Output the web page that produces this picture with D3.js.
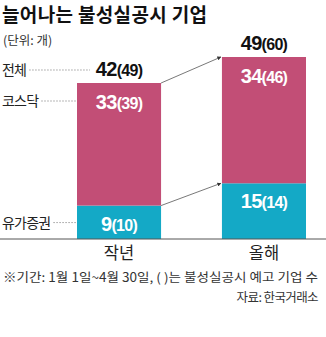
<!DOCTYPE html>
<html><head><meta charset="utf-8">
<script src="https://cdn.jsdelivr.net/npm/d3@7"></script>
<style>
html,body{margin:0;padding:0;background:#fff;}
svg{display:block;}
</style></head>
<body>
<script>
const categories = ["작년", "올해"];
const kosdaq = [33, 34];
const kosdaqNotice = [39, 46];
const yuga = [9, 15];
const yugaNotice = [10, 14];
const total = [42, 49];
const totalNotice = [49, 60];
const seriesLabels = ["전체", "코스닥", "유가증권"];

const W = 326, H = 337;
const PINK = "#c24e76", BLUE = "#14a9c6";
const KR = "'Noto Sans CJK KR', sans-serif";
const NUM = "'Liberation Sans', Arial, sans-serif";

const svg = d3.select("body").append("svg").attr("width", W).attr("height", H);

const x = d3.scaleBand().domain(categories).range([77, 306]).paddingInner(0.42).paddingOuter(0);
const y = d3.scaleLinear().domain([0, d3.max(total)]).range([239, 57]);

// title
svg.append("text").attr("x", 2).attr("y", 22).attr("font-family", KR).attr("font-weight", 700)
  .attr("font-size", 19).attr("fill", "#111").attr("textLength", 205).attr("lengthAdjust", "spacing")
  .text("늘어나는 불성실공시 기업");
svg.append("text").attr("x", 3).attr("y", 45).attr("font-family", KR)
  .attr("font-size", 12.5).attr("fill", "#333").text("(단위: 개)");

const data = categories.map((c, i) => ({c, k: kosdaq[i], kn: kosdaqNotice[i], y: yuga[i], yn: yugaNotice[i], t: total[i], tn: totalNotice[i]}));

// bars
svg.selectAll("rect.yuga").data(data).join("rect")
  .attr("x", d => x(d.c)).attr("width", x.bandwidth())
  .attr("y", d => y(d.y)).attr("height", d => y(0) - y(d.y)).attr("fill", BLUE);
svg.selectAll("rect.kosdaq").data(data).join("rect")
  .attr("x", d => x(d.c)).attr("width", x.bandwidth())
  .attr("y", d => y(d.y + d.k)).attr("height", d => y(d.y) - y(d.y + d.k)).attr("fill", PINK);

// axis baseline
svg.append("line").attr("x1", 0).attr("x2", W).attr("y1", y(0)).attr("y2", y(0))
  .attr("stroke", "#555").attr("stroke-width", 1);

// value labels
function numLabel(xc, yb, main, sub, color) {
  const t = svg.append("text").attr("x", xc).attr("y", yb).attr("text-anchor", "middle")
    .attr("font-family", NUM).attr("font-weight", 700).attr("fill", color).attr("letter-spacing", -0.7);
  t.append("tspan").attr("font-size", 20).text(main);
  t.append("tspan").attr("font-size", 16).text("(" + sub + ")");
}
data.forEach(d => {
  const xc = x(d.c) + x.bandwidth() / 2;
  numLabel(xc, y(d.t) - 7, d.t, d.tn, "#111");
  numLabel(xc, y(d.y + d.k) + 26, d.k, d.kn, "#fff");
  numLabel(xc, y(d.y) + 25, d.y, d.yn, "#fff");
});

// x labels
svg.selectAll("text.xl").data(categories).join("text")
  .attr("x", d => x(d) + x.bandwidth() / 2).attr("y", 259).attr("text-anchor", "middle")
  .attr("font-family", KR).attr("font-size", 16.5).attr("fill", "#222").text(d => d);

// arrows
const defs = svg.append("defs");
defs.append("marker").attr("id", "ah").attr("viewBox", "0 0 10 10").attr("refX", 9).attr("refY", 5)
  .attr("markerWidth", 5).attr("markerHeight", 5).attr("orient", "auto")
  .append("path").attr("d", "M0,0L10,5L0,10z").attr("fill", "#333");
const x0 = x(categories[0]) + x.bandwidth(), x1 = x(categories[1]);
[[total[0], total[1]], [yuga[0], yuga[1]]].forEach(([a, b]) => {
  svg.append("line").attr("x1", x0).attr("y1", y(a)).attr("x2", x1 - 1).attr("y2", y(b))
    .attr("stroke", "#555").attr("stroke-width", 0.8).attr("marker-end", "url(#ah)");
});

// series labels with dotted leaders
const lx = 2;
const leaders = [
  {label: seriesLabels[0], yv: y(total[0]) - 13, end: x(categories[0]) + 13},
  {label: seriesLabels[1], yv: y(total[0]) + 18, end: x(categories[0]) - 1},
  {label: seriesLabels[2], yv: y(yuga[0]) + 17, end: x(categories[0]) - 1}
];
leaders.forEach(l => {
  const t = svg.append("text").attr("x", lx).attr("y", l.yv + 5).attr("font-family", KR)
    .attr("font-size", 14).attr("fill", "#222").attr("letter-spacing", -0.8).text(l.label);
  const w = t.node().getComputedTextLength();
  svg.append("line").attr("x1", lx + w + 3).attr("x2", l.end).attr("y1", l.yv).attr("y2", l.yv)
    .attr("stroke", "#888").attr("stroke-width", 0.8).attr("stroke-dasharray", "1.5,1.5");
});

// footnotes
svg.append("text").attr("x", 3).attr("y", 282).attr("font-family", KR).attr("font-size", 12.5)
  .attr("fill", "#333").attr("textLength", 315).attr("lengthAdjust", "spacingAndGlyphs")
  .text("※기간: 1월 1일~4월 30일, ( )는 불성실공시 예고 기업 수");
svg.append("text").attr("x", 318).attr("y", 302).attr("text-anchor", "end").attr("font-family", KR)
  .attr("font-size", 12.5).attr("fill", "#333").attr("letter-spacing", -0.6).text("자료: 한국거래소");
</script>
</body></html>
